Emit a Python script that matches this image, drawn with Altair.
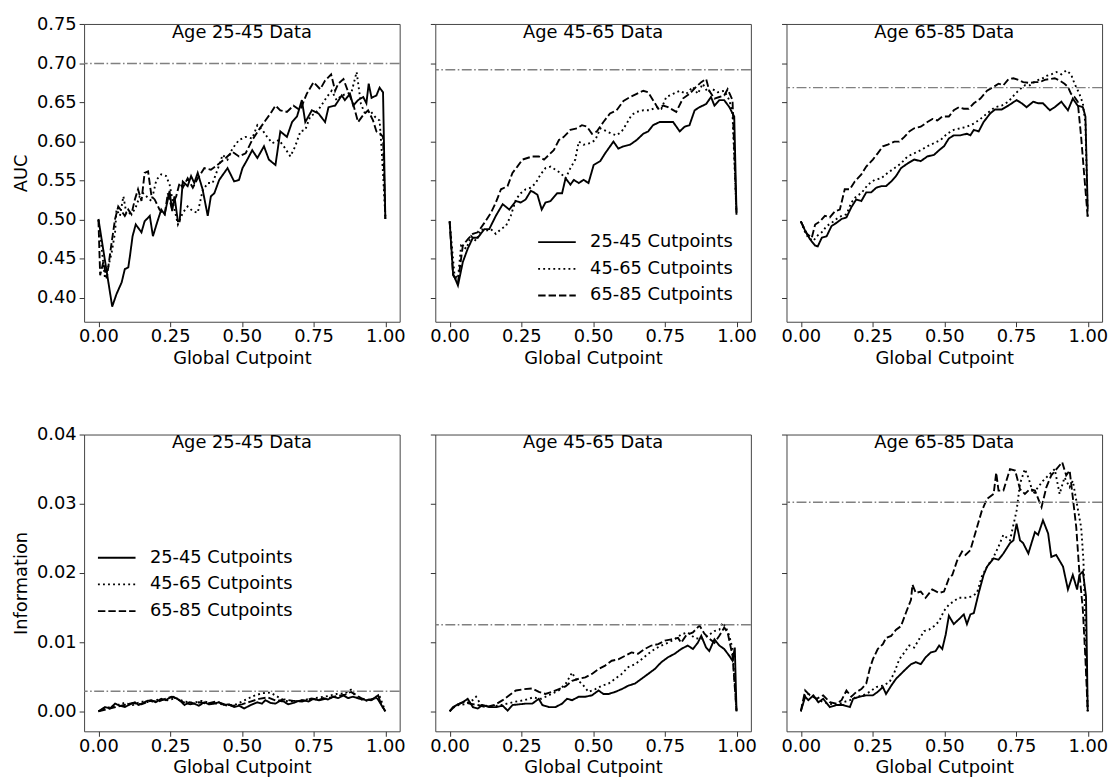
import altair as alt
import pandas as pd

SERIES = ["25-45 Cutpoints", "45-65 Cutpoints", "65-85 Cutpoints"]
DASHES = [[1, 0], [1.9, 3.2], [7.5, 3.0]]
PANEL_TITLES = ["Age 25-45 Data", "Age 45-65 Data", "Age 65-85 Data"]
AUC_REF = [0.700, 0.692, 0.669]
INFO_REF = [0.0029, 0.0125, 0.0302]
X_TICKS = [0.0, 0.25, 0.5, 0.75, 1.0]
AUC_TICKS = [0.40, 0.45, 0.50, 0.55, 0.60, 0.65, 0.70, 0.75]
INFO_TICKS = [0.00, 0.01, 0.02, 0.03, 0.04]

# ---------------- AUC, Age 25-45 data ----------------
A1_SOLID = [(0, 0.501), (0.048, 0.389), (0.063, 0.405), (0.081, 0.420), (0.092, 0.437), (0.104, 0.439),
            (0.11, 0.454), (0.119, 0.479), (0.130, 0.494), (0.150, 0.484), (0.161, 0.498), (0.179, 0.505),
            (0.19, 0.479), (0.204, 0.496), (0.219, 0.513), (0.231, 0.507), (0.248, 0.537), (0.257, 0.511),
            (0.265, 0.530), (0.277, 0.498), (0.283, 0.498), (0.294, 0.549), (0.311, 0.543), (0.323, 0.556),
            (0.334, 0.547), (0.346, 0.560), (0.363, 0.539), (0.381, 0.505), (0.392, 0.530), (0.404, 0.534),
            (0.421, 0.551), (0.450, 0.566), (0.473, 0.549), (0.490, 0.551), (0.502, 0.566), (0.519, 0.577),
            (0.536, 0.589), (0.554, 0.579), (0.577, 0.594), (0.594, 0.577), (0.617, 0.570), (0.634, 0.613),
            (0.657, 0.606), (0.675, 0.625), (0.692, 0.632), (0.709, 0.653), (0.721, 0.625), (0.744, 0.640),
            (0.767, 0.636), (0.790, 0.625), (0.802, 0.644), (0.825, 0.646), (0.848, 0.659), (0.859, 0.653),
            (0.877, 0.661), (0.888, 0.646), (0.905, 0.653), (0.923, 0.657), (0.934, 0.649), (0.942, 0.674),
            (0.952, 0.656), (0.969, 0.659), (0.980, 0.669), (0.992, 0.663), (1.0, 0.501)]
A1_DOTTED = [(0, 0.50), (0.023, 0.425), (0.035, 0.441), (0.046, 0.458), (0.058, 0.484), (0.063, 0.513),
             (0.075, 0.505), (0.087, 0.530), (0.098, 0.507), (0.115, 0.509), (0.127, 0.513), (0.144, 0.530),
             (0.156, 0.534), (0.167, 0.530), (0.185, 0.524), (0.202, 0.551), (0.219, 0.558), (0.236, 0.556),
             (0.248, 0.545), (0.260, 0.522), (0.277, 0.494), (0.294, 0.509), (0.311, 0.517), (0.329, 0.511),
             (0.346, 0.509), (0.363, 0.537), (0.381, 0.547), (0.398, 0.547), (0.415, 0.564), (0.433, 0.583),
             (0.450, 0.577), (0.467, 0.591), (0.490, 0.602), (0.513, 0.606), (0.536, 0.604), (0.554, 0.621),
             (0.571, 0.615), (0.588, 0.606), (0.606, 0.598), (0.629, 0.602), (0.646, 0.594), (0.669, 0.581),
             (0.686, 0.594), (0.704, 0.613), (0.721, 0.615), (0.738, 0.632), (0.755, 0.636), (0.773, 0.644),
             (0.796, 0.657), (0.813, 0.665), (0.830, 0.653), (0.848, 0.659), (0.865, 0.661), (0.882, 0.663),
             (0.900, 0.689), (0.915, 0.648), (0.929, 0.636), (0.946, 0.640), (0.963, 0.632), (0.980, 0.627),
             (0.988, 0.585), (1.0, 0.505)]
A1_DASHED = [(0, 0.50), (0.006, 0.429), (0.017, 0.446), (0.029, 0.425), (0.046, 0.471), (0.058, 0.501),
             (0.069, 0.517), (0.081, 0.511), (0.092, 0.505), (0.104, 0.513), (0.115, 0.507), (0.127, 0.526),
             (0.138, 0.539), (0.150, 0.524), (0.161, 0.560), (0.173, 0.562), (0.185, 0.530), (0.196, 0.526),
             (0.213, 0.513), (0.231, 0.507), (0.242, 0.534), (0.254, 0.517), (0.271, 0.530), (0.283, 0.547),
             (0.294, 0.541), (0.311, 0.553), (0.329, 0.541), (0.346, 0.553), (0.369, 0.566), (0.392, 0.564),
             (0.421, 0.572), (0.444, 0.579), (0.467, 0.587), (0.490, 0.581), (0.513, 0.585), (0.536, 0.602),
             (0.559, 0.615), (0.582, 0.627), (0.600, 0.636), (0.617, 0.646), (0.634, 0.640), (0.657, 0.638),
             (0.680, 0.646), (0.703, 0.640), (0.726, 0.661), (0.750, 0.676), (0.773, 0.667), (0.790, 0.678),
             (0.811, 0.686), (0.825, 0.665), (0.836, 0.674), (0.854, 0.680), (0.871, 0.663), (0.888, 0.648),
             (0.905, 0.625), (0.923, 0.634), (0.940, 0.640), (0.957, 0.627), (0.969, 0.613), (0.980, 0.611),
             (0.992, 0.606), (1.0, 0.501)]

# ---------------- AUC, Age 45-65 data ----------------
A2_SOLID = [(0, 0.498), (0.012, 0.431), (0.029, 0.416), (0.046, 0.446), (0.063, 0.463), (0.081, 0.477),
            (0.098, 0.477), (0.121, 0.488), (0.138, 0.488), (0.161, 0.505), (0.185, 0.520), (0.208, 0.513),
            (0.231, 0.524), (0.248, 0.522), (0.265, 0.526), (0.283, 0.537), (0.294, 0.535), (0.306, 0.532),
            (0.321, 0.513), (0.334, 0.522), (0.352, 0.524), (0.375, 0.534), (0.392, 0.534), (0.404, 0.553),
            (0.421, 0.545), (0.433, 0.551), (0.450, 0.547), (0.467, 0.551), (0.484, 0.547), (0.502, 0.570),
            (0.525, 0.575), (0.542, 0.585), (0.571, 0.600), (0.588, 0.591), (0.606, 0.594), (0.629, 0.596),
            (0.652, 0.602), (0.675, 0.610), (0.692, 0.613), (0.709, 0.621), (0.732, 0.625), (0.755, 0.625),
            (0.779, 0.625), (0.802, 0.613), (0.819, 0.619), (0.836, 0.621), (0.854, 0.640), (0.871, 0.644),
            (0.894, 0.648), (0.911, 0.657), (0.923, 0.646), (0.940, 0.653), (0.957, 0.653), (0.975, 0.644),
            (0.992, 0.632), (1.0, 0.509)]
A2_DOTTED = [(0, 0.498), (0.017, 0.429), (0.029, 0.425), (0.040, 0.467), (0.058, 0.463), (0.075, 0.479),
             (0.092, 0.473), (0.110, 0.488), (0.127, 0.486), (0.144, 0.488), (0.161, 0.482), (0.179, 0.488),
             (0.196, 0.492), (0.213, 0.505), (0.231, 0.526), (0.248, 0.534), (0.265, 0.539), (0.283, 0.541),
             (0.300, 0.547), (0.317, 0.558), (0.334, 0.566), (0.352, 0.568), (0.369, 0.564), (0.386, 0.560),
             (0.404, 0.553), (0.421, 0.566), (0.438, 0.577), (0.450, 0.600), (0.467, 0.596), (0.490, 0.598),
             (0.508, 0.602), (0.525, 0.617), (0.548, 0.613), (0.565, 0.610), (0.582, 0.608), (0.600, 0.613),
             (0.617, 0.623), (0.634, 0.634), (0.652, 0.638), (0.675, 0.640), (0.698, 0.640), (0.721, 0.644),
             (0.738, 0.642), (0.755, 0.657), (0.779, 0.661), (0.802, 0.665), (0.825, 0.661), (0.848, 0.670),
             (0.865, 0.661), (0.882, 0.674), (0.900, 0.663), (0.917, 0.667), (0.934, 0.663), (0.957, 0.665),
             (0.975, 0.653), (0.986, 0.636), (1.0, 0.505)]
A2_DASHED = [(0, 0.498), (0.012, 0.429), (0.029, 0.420), (0.046, 0.467), (0.063, 0.475), (0.081, 0.482),
             (0.098, 0.484), (0.121, 0.496), (0.144, 0.509), (0.161, 0.522), (0.179, 0.539), (0.202, 0.543),
             (0.219, 0.560), (0.236, 0.568), (0.254, 0.577), (0.271, 0.579), (0.288, 0.581), (0.311, 0.581),
             (0.329, 0.577), (0.346, 0.583), (0.363, 0.589), (0.381, 0.602), (0.398, 0.606), (0.421, 0.615),
             (0.444, 0.617), (0.461, 0.621), (0.479, 0.619), (0.496, 0.610), (0.513, 0.613), (0.536, 0.625),
             (0.559, 0.636), (0.582, 0.640), (0.606, 0.652), (0.629, 0.657), (0.652, 0.661), (0.675, 0.665),
             (0.692, 0.663), (0.709, 0.653), (0.727, 0.642), (0.744, 0.646), (0.761, 0.644), (0.790, 0.638),
             (0.813, 0.655), (0.836, 0.661), (0.859, 0.670), (0.877, 0.676), (0.894, 0.680), (0.905, 0.665),
             (0.923, 0.655), (0.940, 0.657), (0.957, 0.659), (0.969, 0.667), (0.986, 0.653), (1.0, 0.505)]

# ---------------- AUC, Age 65-85 data ----------------
A3_SOLID = [(0, 0.498), (0.015, 0.486), (0.032, 0.475), (0.050, 0.467), (0.059, 0.466), (0.073, 0.477),
            (0.090, 0.479), (0.107, 0.492), (0.124, 0.496), (0.142, 0.501), (0.159, 0.503), (0.176, 0.516),
            (0.193, 0.526), (0.211, 0.524), (0.228, 0.535), (0.245, 0.535), (0.263, 0.541), (0.280, 0.543),
            (0.297, 0.543), (0.315, 0.549), (0.332, 0.556), (0.349, 0.566), (0.372, 0.572), (0.395, 0.577),
            (0.418, 0.575), (0.441, 0.581), (0.464, 0.583), (0.482, 0.589), (0.499, 0.594), (0.516, 0.604),
            (0.533, 0.608), (0.556, 0.608), (0.579, 0.610), (0.591, 0.608), (0.603, 0.615), (0.620, 0.613),
            (0.637, 0.625), (0.660, 0.636), (0.677, 0.641), (0.700, 0.641), (0.723, 0.646), (0.752, 0.653),
            (0.770, 0.649), (0.787, 0.644), (0.810, 0.651), (0.827, 0.649), (0.844, 0.649), (0.868, 0.640),
            (0.885, 0.644), (0.908, 0.651), (0.931, 0.640), (0.948, 0.655), (0.965, 0.646), (0.983, 0.644),
            (0.992, 0.632), (1.0, 0.513)]
A3_DOTTED = [(0, 0.498), (0.015, 0.484), (0.026, 0.477), (0.044, 0.473), (0.055, 0.479), (0.073, 0.484),
             (0.090, 0.492), (0.107, 0.496), (0.124, 0.501), (0.142, 0.505), (0.159, 0.507), (0.176, 0.522),
             (0.193, 0.530), (0.211, 0.534), (0.234, 0.545), (0.257, 0.551), (0.280, 0.553), (0.303, 0.560),
             (0.326, 0.566), (0.349, 0.572), (0.372, 0.581), (0.395, 0.585), (0.418, 0.589), (0.441, 0.594),
             (0.464, 0.598), (0.487, 0.602), (0.510, 0.610), (0.533, 0.615), (0.556, 0.617), (0.579, 0.619),
             (0.603, 0.623), (0.626, 0.629), (0.649, 0.636), (0.677, 0.644), (0.700, 0.646), (0.723, 0.651),
             (0.747, 0.661), (0.764, 0.667), (0.781, 0.672), (0.798, 0.672), (0.821, 0.678), (0.839, 0.680),
             (0.856, 0.684), (0.873, 0.686), (0.891, 0.689), (0.908, 0.686), (0.925, 0.691), (0.942, 0.686),
             (0.954, 0.674), (0.971, 0.661), (0.983, 0.649), (0.992, 0.623), (1.0, 0.503)]
A3_DASHED = [(0, 0.498), (0.021, 0.482), (0.038, 0.477), (0.050, 0.494), (0.067, 0.498), (0.084, 0.505),
             (0.101, 0.503), (0.119, 0.511), (0.136, 0.513), (0.153, 0.539), (0.171, 0.539), (0.188, 0.549),
             (0.211, 0.558), (0.228, 0.568), (0.251, 0.577), (0.268, 0.585), (0.286, 0.594), (0.303, 0.596),
             (0.326, 0.600), (0.343, 0.600), (0.361, 0.606), (0.378, 0.613), (0.395, 0.617), (0.418, 0.619),
             (0.441, 0.625), (0.459, 0.629), (0.476, 0.627), (0.493, 0.632), (0.516, 0.632), (0.533, 0.640),
             (0.551, 0.644), (0.568, 0.642), (0.585, 0.642), (0.603, 0.649), (0.626, 0.655), (0.649, 0.665),
             (0.672, 0.670), (0.689, 0.674), (0.706, 0.672), (0.724, 0.680), (0.741, 0.681), (0.758, 0.679),
             (0.775, 0.676), (0.798, 0.675), (0.816, 0.676), (0.833, 0.676), (0.850, 0.679), (0.868, 0.680),
             (0.885, 0.681), (0.902, 0.678), (0.919, 0.674), (0.931, 0.670), (0.942, 0.661), (0.954, 0.657),
             (0.965, 0.651), (0.977, 0.606), (0.988, 0.556), (1.0, 0.503)]

# ---------------- Information, Age 25-45 data ----------------
I1_SOLID = [(0, 0.0), (0.023, 0.0006), (0.040, 0.0004), (0.058, 0.0011), (0.075, 0.0008), (0.092, 0.0006),
            (0.110, 0.0010), (0.127, 0.0013), (0.140, 0.0009), (0.156, 0.0012), (0.170, 0.0015), (0.185, 0.0016),
            (0.200, 0.0013), (0.219, 0.0018), (0.235, 0.0016), (0.254, 0.0021), (0.270, 0.0019), (0.283, 0.0016),
            (0.300, 0.0009), (0.317, 0.0013), (0.334, 0.0011), (0.350, 0.0008), (0.369, 0.0013), (0.385, 0.0010),
            (0.404, 0.0011), (0.420, 0.0013), (0.438, 0.0009), (0.455, 0.0010), (0.473, 0.0006), (0.490, 0.0008),
            (0.508, 0.0004), (0.531, 0.0009), (0.554, 0.0013), (0.570, 0.0011), (0.582, 0.0016), (0.600, 0.0012),
            (0.617, 0.0011), (0.632, 0.0015), (0.646, 0.0014), (0.662, 0.0010), (0.680, 0.0012), (0.698, 0.0015),
            (0.715, 0.0016), (0.732, 0.0014), (0.750, 0.0018), (0.767, 0.0016), (0.784, 0.0019), (0.800, 0.0017),
            (0.819, 0.0021), (0.836, 0.0019), (0.854, 0.0023), (0.870, 0.0019), (0.888, 0.0021), (0.911, 0.0018),
            (0.934, 0.0016), (0.957, 0.0018), (0.975, 0.0023), (0.986, 0.0009), (1.0, 0.0)]
I1_DOTTED = [(0, 0.0), (0.030, 0.0005), (0.060, 0.0008), (0.090, 0.0012), (0.120, 0.0009), (0.150, 0.0014),
             (0.180, 0.0013), (0.210, 0.0017), (0.240, 0.0016), (0.270, 0.0019), (0.300, 0.0014), (0.330, 0.0012),
             (0.360, 0.0015), (0.390, 0.0012), (0.420, 0.0011), (0.450, 0.0008), (0.480, 0.0010), (0.510, 0.0016),
             (0.540, 0.0022), (0.570, 0.0026), (0.600, 0.0027), (0.620, 0.0022), (0.650, 0.0015), (0.680, 0.0014),
             (0.710, 0.0016), (0.740, 0.0018), (0.770, 0.0020), (0.800, 0.0022), (0.830, 0.0025), (0.860, 0.0026),
             (0.880, 0.0031), (0.900, 0.0020), (0.930, 0.0015), (0.960, 0.0017), (0.980, 0.0022), (1.0, 0.0)]
I1_DASHED = [(0, 0.0), (0.030, 0.0003), (0.060, 0.0006), (0.090, 0.0009), (0.120, 0.0012), (0.150, 0.0010),
             (0.180, 0.0015), (0.210, 0.0014), (0.240, 0.0019), (0.260, 0.0021), (0.290, 0.0014), (0.320, 0.0010),
             (0.350, 0.0013), (0.380, 0.0011), (0.410, 0.0014), (0.440, 0.0010), (0.470, 0.0008), (0.500, 0.0010),
             (0.530, 0.0014), (0.560, 0.0018), (0.590, 0.0020), (0.620, 0.0015), (0.650, 0.0017), (0.680, 0.0015),
             (0.710, 0.0014), (0.740, 0.0018), (0.770, 0.0016), (0.800, 0.0019), (0.830, 0.0022), (0.860, 0.0024),
             (0.880, 0.0028), (0.900, 0.0023), (0.920, 0.0018), (0.950, 0.0016), (0.970, 0.0020), (0.985, 0.0010),
             (1.0, 0.0)]

# ---------------- Information, Age 45-65 data ----------------
I2_SOLID = [(0, 0.0), (0.012, 0.0006), (0.029, 0.0010), (0.046, 0.0013), (0.063, 0.0018), (0.081, 0.0006),
            (0.098, 0.0004), (0.115, 0.0009), (0.138, 0.0006), (0.161, 0.0006), (0.185, 0.0008), (0.202, 0.0001),
            (0.219, 0.0009), (0.242, 0.0010), (0.265, 0.0011), (0.288, 0.0011), (0.311, 0.0018), (0.323, 0.0009),
            (0.346, 0.0006), (0.369, 0.0006), (0.392, 0.0011), (0.409, 0.0018), (0.427, 0.0016), (0.450, 0.0021),
            (0.473, 0.0021), (0.496, 0.0023), (0.519, 0.0030), (0.536, 0.0025), (0.554, 0.0025), (0.577, 0.0028),
            (0.600, 0.0032), (0.623, 0.0037), (0.646, 0.0040), (0.669, 0.0047), (0.692, 0.0054), (0.715, 0.0061),
            (0.738, 0.0071), (0.761, 0.0078), (0.784, 0.0083), (0.807, 0.0090), (0.830, 0.0095), (0.848, 0.0090),
            (0.865, 0.0099), (0.877, 0.0109), (0.894, 0.0092), (0.905, 0.0087), (0.923, 0.0104), (0.940, 0.0095),
            (0.957, 0.0090), (0.975, 0.0080), (0.986, 0.0073), (0.994, 0.0092), (1.0, 0.0)]
I2_DOTTED = [(0, 0.0), (0.020, 0.0008), (0.050, 0.0010), (0.080, 0.0016), (0.092, 0.0021), (0.110, 0.0009),
             (0.140, 0.0007), (0.170, 0.0008), (0.200, 0.0011), (0.230, 0.0014), (0.260, 0.0016), (0.290, 0.0020),
             (0.320, 0.0018), (0.350, 0.0024), (0.380, 0.0030), (0.405, 0.0040), (0.427, 0.0056), (0.438, 0.0047),
             (0.461, 0.0040), (0.484, 0.0028), (0.508, 0.0032), (0.531, 0.0037), (0.554, 0.0040), (0.577, 0.0047),
             (0.600, 0.0054), (0.623, 0.0064), (0.646, 0.0068), (0.669, 0.0075), (0.692, 0.0083), (0.715, 0.0090),
             (0.738, 0.0095), (0.761, 0.0099), (0.784, 0.0104), (0.807, 0.0111), (0.830, 0.0114), (0.854, 0.0106),
             (0.877, 0.0104), (0.900, 0.0109), (0.923, 0.0116), (0.940, 0.0118), (0.952, 0.0128), (0.963, 0.0121),
             (0.975, 0.0109), (0.986, 0.0090), (1.0, 0.0)]
I2_DASHED = [(0, 0.0), (0.023, 0.0009), (0.046, 0.0013), (0.069, 0.0011), (0.098, 0.0009), (0.127, 0.0006),
             (0.156, 0.0009), (0.185, 0.0016), (0.208, 0.0023), (0.231, 0.0030), (0.260, 0.0032), (0.288, 0.0033),
             (0.311, 0.0028), (0.334, 0.0025), (0.357, 0.0028), (0.381, 0.0032), (0.404, 0.0036), (0.427, 0.0044),
             (0.450, 0.0047), (0.473, 0.0049), (0.496, 0.0054), (0.519, 0.0061), (0.542, 0.0066), (0.565, 0.0073),
             (0.588, 0.0075), (0.611, 0.0080), (0.634, 0.0085), (0.657, 0.0083), (0.680, 0.0090), (0.703, 0.0095),
             (0.727, 0.0097), (0.750, 0.0102), (0.773, 0.0104), (0.796, 0.0106), (0.807, 0.0099), (0.825, 0.0110),
             (0.848, 0.0114), (0.871, 0.0124), (0.888, 0.0112), (0.905, 0.0105), (0.923, 0.0099), (0.940, 0.0109),
             (0.957, 0.0121), (0.969, 0.0114), (0.986, 0.0080), (1.0, 0.0)]

# ---------------- Information, Age 65-85 data ----------------
I3_SOLID = [(0, 0.0), (0.015, 0.0021), (0.026, 0.0016), (0.044, 0.0023), (0.061, 0.0013), (0.078, 0.0018),
            (0.101, 0.0006), (0.124, 0.0009), (0.147, 0.0009), (0.171, 0.0006), (0.182, 0.0018), (0.205, 0.0021),
            (0.228, 0.0023), (0.251, 0.0023), (0.268, 0.0028), (0.286, 0.0035), (0.297, 0.0025), (0.315, 0.0037),
            (0.332, 0.0047), (0.349, 0.0054), (0.366, 0.0061), (0.384, 0.0068), (0.401, 0.0071), (0.418, 0.0068),
            (0.435, 0.0078), (0.453, 0.0085), (0.470, 0.0087), (0.482, 0.0095), (0.493, 0.0090), (0.505, 0.0111),
            (0.516, 0.0138), (0.533, 0.0126), (0.551, 0.0133), (0.568, 0.0140), (0.579, 0.0126), (0.591, 0.0140),
            (0.603, 0.0142), (0.620, 0.0171), (0.637, 0.0197), (0.649, 0.0209), (0.672, 0.0221), (0.689, 0.0219),
            (0.706, 0.0228), (0.729, 0.0243), (0.741, 0.0247), (0.752, 0.0271), (0.764, 0.0247), (0.775, 0.0243),
            (0.793, 0.0228), (0.804, 0.0243), (0.816, 0.0259), (0.827, 0.0255), (0.844, 0.0276), (0.862, 0.0257),
            (0.873, 0.0223), (0.890, 0.0226), (0.914, 0.0209), (0.931, 0.0176), (0.948, 0.0197), (0.963, 0.0176),
            (0.971, 0.0197), (0.983, 0.0202), (0.994, 0.0166), (1.0, 0.0)]
I3_DOTTED = [(0, 0.0), (0.015, 0.0025), (0.032, 0.0025), (0.055, 0.0018), (0.078, 0.0013), (0.101, 0.0011),
             (0.124, 0.0009), (0.147, 0.0013), (0.171, 0.0016), (0.194, 0.0021), (0.217, 0.0023), (0.240, 0.0028),
             (0.263, 0.0035), (0.286, 0.0037), (0.309, 0.0042), (0.326, 0.0056), (0.343, 0.0075), (0.361, 0.0085),
             (0.378, 0.0095), (0.395, 0.0092), (0.412, 0.0104), (0.430, 0.0116), (0.447, 0.0118), (0.464, 0.0123),
             (0.482, 0.0130), (0.499, 0.0145), (0.516, 0.0154), (0.533, 0.0159), (0.551, 0.0164), (0.574, 0.0164),
             (0.597, 0.0166), (0.614, 0.0171), (0.631, 0.0195), (0.649, 0.0209), (0.672, 0.0223), (0.689, 0.0238),
             (0.706, 0.0255), (0.729, 0.0247), (0.752, 0.0290), (0.764, 0.0329), (0.781, 0.0350), (0.793, 0.0338),
             (0.810, 0.0314), (0.827, 0.0324), (0.844, 0.0333), (0.868, 0.0343), (0.885, 0.0350), (0.902, 0.0314),
             (0.919, 0.0338), (0.937, 0.0324), (0.948, 0.0333), (0.960, 0.0305), (0.977, 0.0266), (0.985, 0.0219),
             (1.0, 0.0)]
I3_DASHED = [(0, 0.0), (0.015, 0.0030), (0.032, 0.0023), (0.055, 0.0018), (0.078, 0.0023), (0.101, 0.0013),
             (0.124, 0.0011), (0.142, 0.0016), (0.159, 0.0030), (0.176, 0.0021), (0.194, 0.0028), (0.211, 0.0032),
             (0.228, 0.0040), (0.240, 0.0061), (0.251, 0.0075), (0.268, 0.0090), (0.286, 0.0097), (0.297, 0.0106),
             (0.315, 0.0109), (0.332, 0.0118), (0.349, 0.0123), (0.366, 0.0142), (0.384, 0.0161), (0.389, 0.0183),
             (0.401, 0.0171), (0.418, 0.0173), (0.435, 0.0164), (0.458, 0.0176), (0.482, 0.0171), (0.499, 0.0173),
             (0.516, 0.0192), (0.528, 0.0197), (0.545, 0.0218), (0.562, 0.0231), (0.574, 0.0226), (0.591, 0.0233),
             (0.614, 0.0266), (0.631, 0.0290), (0.649, 0.0307), (0.672, 0.0314), (0.681, 0.0345), (0.689, 0.0319),
             (0.706, 0.0319), (0.729, 0.0350), (0.747, 0.0348), (0.764, 0.0321), (0.781, 0.0314), (0.798, 0.0321),
             (0.816, 0.0319), (0.839, 0.0295), (0.856, 0.0324), (0.873, 0.0341), (0.891, 0.0350), (0.911, 0.0360),
             (0.925, 0.0341), (0.937, 0.0348), (0.948, 0.0309), (0.960, 0.0266), (0.971, 0.0200), (0.983, 0.0147),
             (0.992, 0.0075), (1.0, 0.0)]

AUC_DATA = [(A1_SOLID, A1_DOTTED, A1_DASHED), (A2_SOLID, A2_DOTTED, A2_DASHED), (A3_SOLID, A3_DOTTED, A3_DASHED)]
INFO_DATA = [(I1_SOLID, I1_DOTTED, I1_DASHED), (I2_SOLID, I2_DOTTED, I2_DASHED), (I3_SOLID, I3_DOTTED, I3_DASHED)]

FONT = "DejaVu Sans"
FS = 18
W = 319
H_TOP = 301
H_BOT = 300


def to_frame(triple):
    rows = []
    for name, pairs in zip(SERIES, triple):
        for i, (x, y) in enumerate(pairs):
            rows.append({"series": name, "x": x, "y": y, "i": i})
    return pd.DataFrame(rows)


def make_panel(triple, ref, title, ydomain, yticks, ytitle, height, show_ylabels, legend):
    df = to_frame(triple)
    xenc = alt.X("x:Q", scale=alt.Scale(domain=[-0.05, 1.05], nice=False, zero=False),
                 axis=alt.Axis(values=X_TICKS, format=".2f", title="Global Cutpoint", tickSize=5,
                               labelPadding=1, titlePadding=4, domain=False, grid=False))
    if show_ylabels:
        yaxis = alt.Axis(values=yticks, format=".2f", title=ytitle, tickSize=5, labelPadding=3,
                         titlePadding=6, domain=False, grid=False)
    else:
        yaxis = alt.Axis(values=yticks, labels=False, title=None, tickSize=5, domain=False, grid=False)
    yenc = alt.Y("y:Q", scale=alt.Scale(domain=ydomain, nice=False, zero=False), axis=yaxis)
    dash = alt.StrokeDash("series:N", scale=alt.Scale(domain=SERIES, range=DASHES),
                          legend=legend, sort=SERIES)
    lines = alt.Chart(df).mark_line(color="black", strokeWidth=1.9, clip=True).encode(
        x=xenc, y=yenc, strokeDash=dash, order="i:Q", detail="series:N")
    ref_df = pd.DataFrame({"ref": [ref]})
    rule = alt.Chart(ref_df).mark_rule(color="#808080", strokeWidth=1.5,
                                       strokeDash=[10, 2.5, 1.6, 2.5]).encode(y="ref:Q")
    ttl = alt.Chart(pd.DataFrame({"t": [title]})).mark_text(
        font=FONT, fontSize=FS, color="black", baseline="middle", align="center").encode(
        text="t:N", x=alt.value(W / 2), y=alt.value(9))
    return alt.layer(lines, rule, ttl).properties(width=W, height=height)


def legend_def(**kw):
    # custom horizontal stroke symbol: length = 2*sqrt(size) = 38 px
    return alt.Legend(title=None, symbolType="M-2,0H2", symbolSize=361, symbolStrokeWidth=1.9,
                      symbolStrokeColor="black", symbolFillColor="transparent", symbolOffset=8.5,
                      labelFontSize=FS, labelFont=FONT, labelColor="black",
                      labelOffset=23, rowPadding=7, padding=0, orient="none", **kw)


panels = []
for k in range(3):
    leg = legend_def(legendX=104, legendY=210) if k == 1 else None
    panels.append(make_panel(AUC_DATA[k], AUC_REF[k], PANEL_TITLES[k], [0.3696, 0.7504], AUC_TICKS,
                             "AUC", H_TOP, k == 0, leg))
for k in range(3):
    leg = legend_def(legendX=14, legendY=114) if k == 0 else None
    panels.append(make_panel(INFO_DATA[k], INFO_REF[k], PANEL_TITLES[k], [-0.0029, 0.04], INFO_TICKS,
                             "Information", H_BOT, k == 0, leg))

chart = alt.concat(*panels, columns=3, spacing={"row": 57, "column": 22})
chart = chart.resolve_scale(strokeDash="independent").resolve_legend(strokeDash="independent")
chart = chart.properties(padding={"left": 12, "top": 10, "right": 0, "bottom": 0}).configure_view(
    stroke="#444444", strokeWidth=1).configure_axis(
    labelFont=FONT, titleFont=FONT, labelFontSize=FS, titleFontSize=FS, titleFontWeight="normal",
    labelColor="black", titleColor="black", tickColor="#333333", tickWidth=1)

chart.save("out.html", embed_options={"renderer": "svg", "actions": False})
